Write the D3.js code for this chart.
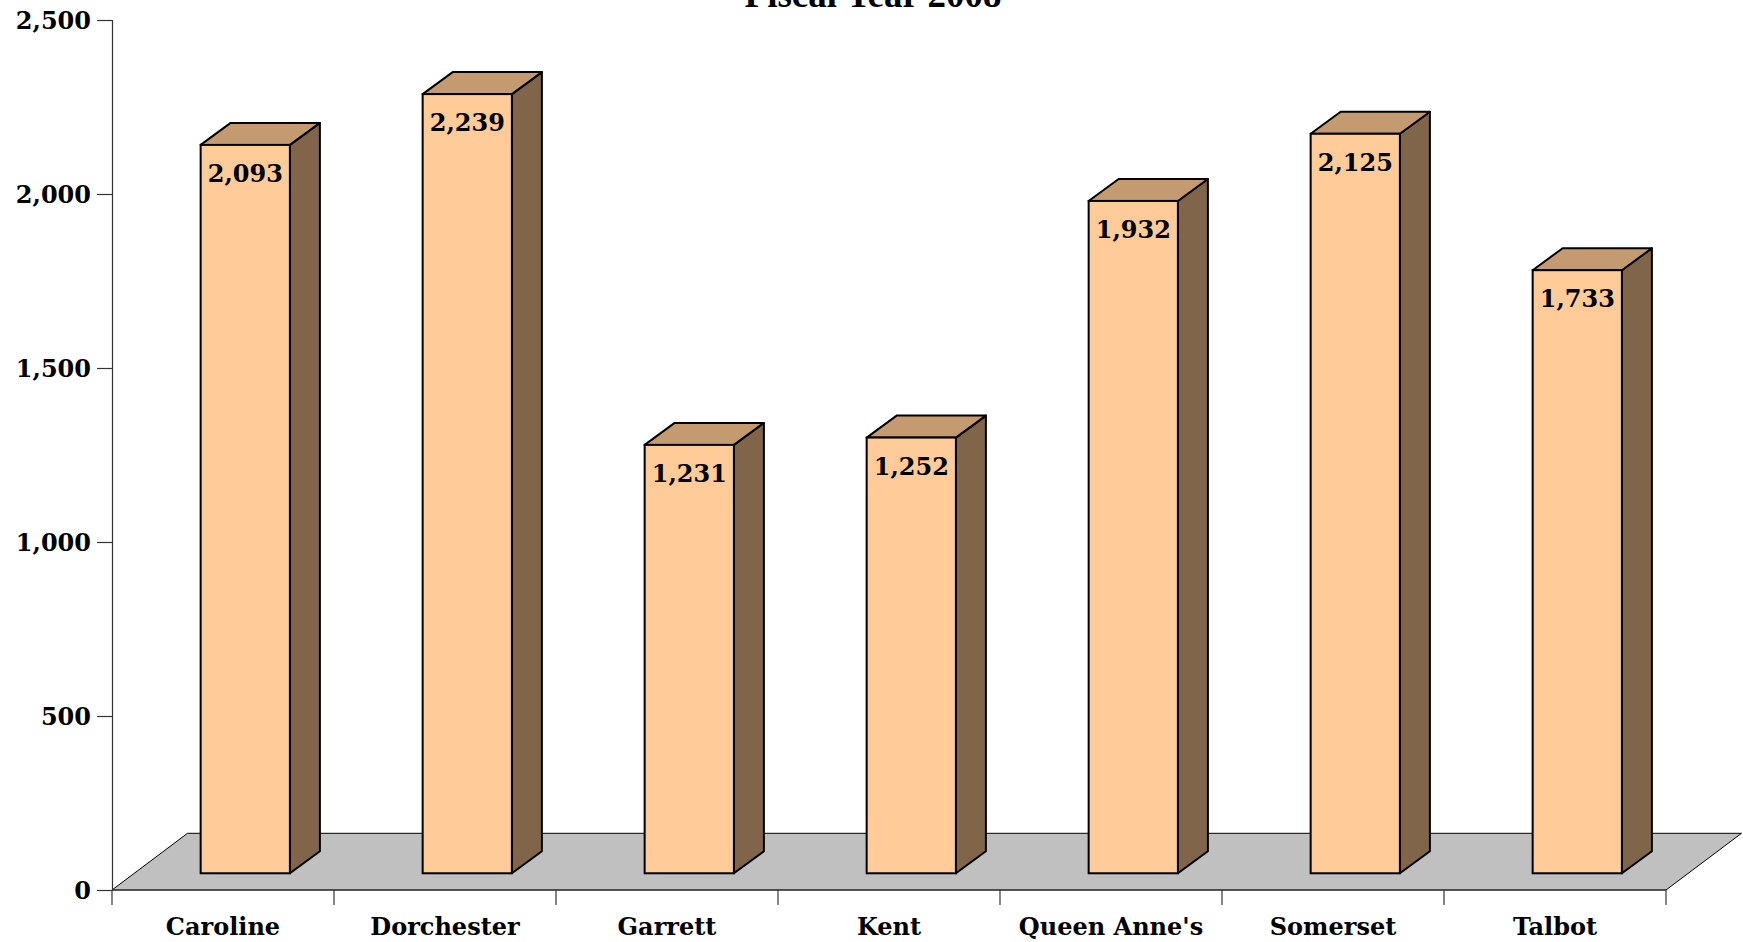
<!DOCTYPE html>
<html>
<head>
<meta charset="utf-8">
<script src="https://cdn.jsdelivr.net/npm/d3@7/dist/d3.min.js"></script>
<style>
  html, body { margin: 0; padding: 0; background: #ffffff; overflow: hidden; }
  svg { display: block; }
</style>
</head>
<body>
<svg id="chart" width="1743" height="942"></svg>
<script>
// ---- data ----
const categories = ["Caroline", "Dorchester", "Garrett", "Kent", "Queen Anne's", "Somerset", "Talbot"];
const values = [2093, 2239, 1231, 1252, 1932, 2125, 1733];
const yTicks = [0, 500, 1000, 1500, 2000, 2500];
const title = "Fiscal Year 2008";

// ---- layout ----
const svg = d3.select("#chart");
const plotLeft = 112, plotRight = 1666, plotTop = 20, plotBottom = 890;
const floorDX = 75.5, floorDY = -56.7;      // floor depth
const barFrontFrac = 0.295;                 // bar front position within floor depth
const barDX = 30, barDY = -22;              // bar depth

const x = d3.scaleBand().domain(categories).range([plotLeft, plotRight])
  .paddingInner(0.598).paddingOuter(0.299);
const y = d3.scaleLinear().domain([0, 2500]).range([plotBottom, plotTop]);

const serif = "'DejaVu Serif', serif";

// title (cut off at top as in reference)
svg.append("text")
  .attr("x", 873).attr("y", 7)
  .attr("text-anchor", "middle")
  .style("font-family", "'Liberation Serif', 'Times New Roman', serif")
  .style("font-weight", "bold")
  .style("font-size", "37px")
  .text(title);

// floor
const y0 = y(0);
svg.append("path")
  .attr("d", `M${plotLeft},${y0} L${plotLeft + floorDX},${y0 + floorDY} L${plotRight + floorDX},${y0 + floorDY} L${plotRight},${y0} Z`)
  .attr("fill", "#c0c0c0")
  .attr("stroke", "#000")
  .attr("stroke-width", 1);

// y axis
const yAxis = d3.axisLeft(y).tickValues(yTicks).tickFormat(d3.format(",")).tickSize(15).tickPadding(6);
const gy = svg.append("g").attr("transform", `translate(${plotLeft},0)`).call(yAxis);
gy.select(".domain").attr("stroke", "#333").attr("stroke-width", 1.2);
gy.selectAll(".tick line").attr("stroke", "#333").attr("stroke-width", 1.2);
gy.selectAll(".tick text")
  .style("font-family", serif).style("font-weight", "bold").style("font-size", "24px")
  .attr("fill", "#000").attr("dy", "0.36em");

// x axis line and boundary ticks
svg.append("line")
  .attr("x1", plotLeft).attr("x2", plotRight).attr("y1", y0).attr("y2", y0)
  .attr("stroke", "#333").attr("stroke-width", 1.2);
const boundaries = d3.range(categories.length + 1).map(i => plotLeft + i * x.step());
svg.selectAll(".xtick").data(boundaries).enter().append("line")
  .attr("class", "xtick")
  .attr("x1", d => d).attr("x2", d => d)
  .attr("y1", y0).attr("y2", y0 + 15)
  .attr("stroke", "#333").attr("stroke-width", 1.2);

svg.selectAll(".xlabel").data(categories).enter().append("text")
  .attr("class", "xlabel")
  .attr("x", d => x(d) + x.bandwidth() / 2)
  .attr("y", 935)
  .attr("text-anchor", "middle")
  .style("font-family", serif).style("font-weight", "bold").style("font-size", "24px")
  .text(d => d);

// bars
const shiftX = floorDX * barFrontFrac, shiftY = floorDY * barFrontFrac;
const data = categories.map((c, i) => ({ c, v: values[i] }));
const bars = svg.selectAll(".bar").data(data).enter().append("g").attr("class", "bar");
const w = x.bandwidth();

bars.each(function(d) {
  const g = d3.select(this);
  const xl = x(d.c) + shiftX, xr = xl + w;
  const yb = y(0) + shiftY, yt = y(d.v) + shiftY;
  // side
  g.append("path")
    .attr("d", `M${xr},${yb} L${xr + barDX},${yb + barDY} L${xr + barDX},${yt + barDY} L${xr},${yt} Z`)
    .attr("fill", "#80654a").attr("stroke", "#000").attr("stroke-width", 2).attr("stroke-linejoin", "round");
  // top
  g.append("path")
    .attr("d", `M${xl},${yt} L${xl + barDX},${yt + barDY} L${xr + barDX},${yt + barDY} L${xr},${yt} Z`)
    .attr("fill", "#c49a70").attr("stroke", "#000").attr("stroke-width", 2).attr("stroke-linejoin", "round");
  // front
  g.append("rect")
    .attr("x", xl).attr("y", yt).attr("width", w).attr("height", yb - yt)
    .attr("fill", "#ffcc99").attr("stroke", "#000").attr("stroke-width", 2);
  // value label
  g.append("text")
    .attr("x", xl + w / 2).attr("y", yt + 37)
    .attr("text-anchor", "middle")
    .style("font-family", serif).style("font-weight", "bold").style("font-size", "24px")
    .text(d3.format(",")(d.v));
});
</script>
</body>
</html>
